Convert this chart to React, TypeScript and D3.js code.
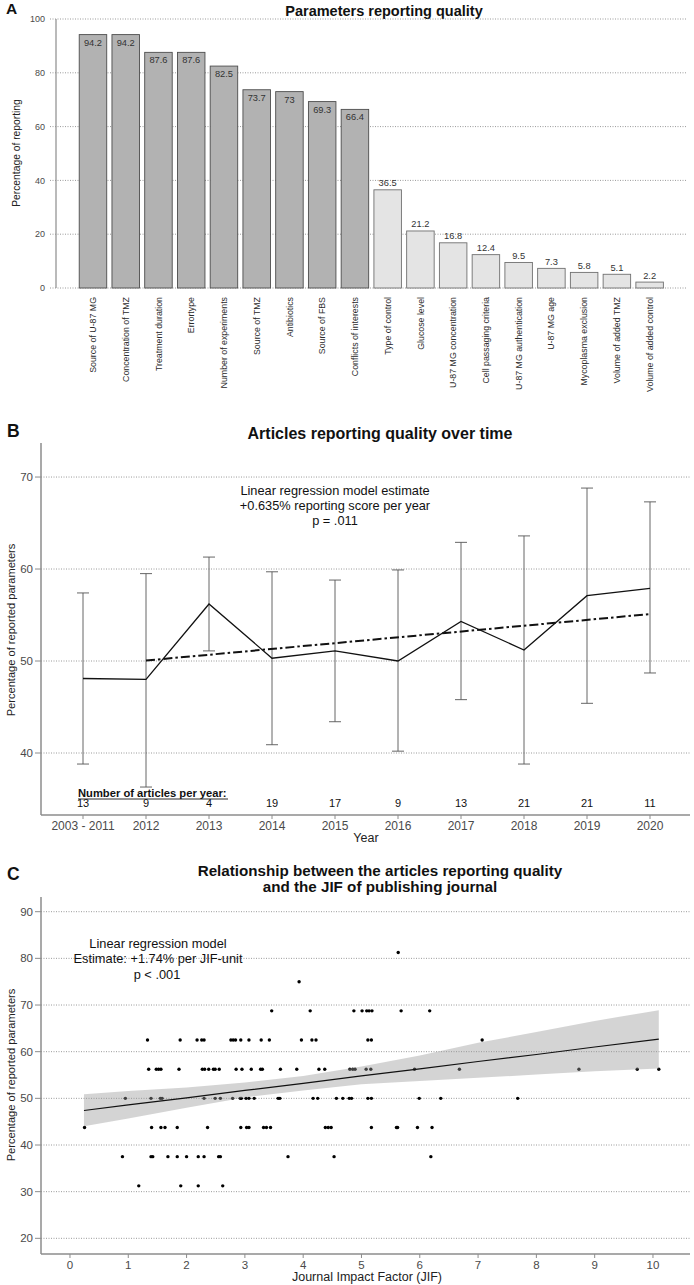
import React from "react";
import * as d3 from "d3";

// ---------- Panel A data ----------
const paramLabels = [
  "Source of U-87 MG", "Concentration of TMZ", "Treatment duration", "Errortype",
  "Number of experiments", "Source of TMZ", "Antibiotics", "Source of FBS",
  "Conflicts of interests", "Type of control", "Glucose level", "U-87 MG concentration",
  "Cell passaging criteria", "U-87 MG authentication", "U-87 MG age",
  "Mycoplasma exclusion", "Volume of added TMZ", "Volume of added control",
];
const paramValues = [94.2, 94.2, 87.6, 87.6, 82.5, 73.7, 73, 69.3, 66.4, 36.5, 21.2, 16.8, 12.4, 9.5, 7.3, 5.8, 5.1, 2.2];
const paramHighGroup = [true, true, true, true, true, true, true, true, true, false, false, false, false, false, false, false, false, false];
const aTicks = [0, 20, 40, 60, 80, 100];

// ---------- Panel B data ----------
const years = ["2003 - 2011", "2012", "2013", "2014", "2015", "2016", "2017", "2018", "2019", "2020"];
const meanScore = [48.1, 48.0, 56.2, 50.3, 51.1, 50.0, 54.3, 51.2, 57.1, 57.9];
const upperCI = [57.4, 59.5, 61.3, 59.7, 58.8, 59.9, 62.9, 63.6, 68.8, 67.3];
const lowerCI = [38.8, 36.3, 51.1, 40.9, 43.4, 40.2, 45.8, 38.8, 45.4, 48.7];
const articleCounts = [13, 9, 4, 19, 17, 9, 13, 21, 21, 11];
const trendYears = ["2012", "2020"];
const trendValues = [50.05, 55.1];
const bTicks = [40, 50, 60, 70];

// ---------- Panel C data ----------
const scoreLevels = [81.25, 75, 68.75, 62.5, 56.25, 50, 43.75, 37.5, 31.25];
const jif81 = [5.63];
const jif75 = [3.93];
const jif69 = [3.46, 4.12, 4.87, 5.01, 5.09, 5.13, 5.18, 5.68, 6.17];
const jif62 = [1.33, 1.89, 2.18, 2.26, 2.3, 2.76, 2.8, 2.84, 2.93, 3.07, 3.28, 3.42, 3.97, 4.15, 4.22, 5.11, 5.17, 7.07];
const jif56 = [1.35, 1.48, 1.52, 1.56, 1.87, 2.27, 2.31, 2.38, 2.46, 2.49, 2.56, 2.85, 2.95, 3.11, 3.27, 3.3, 3.61, 3.89, 4.27, 4.37, 4.8, 4.85, 4.89, 5.08, 5.16, 5.91, 6.68, 8.73, 9.73, 10.1];
const jif50 = [0.95, 1.39, 1.55, 1.58, 2.3, 2.49, 2.58, 2.79, 2.92, 2.94, 3.02, 3.07, 3.16, 3.57, 3.6, 4.17, 4.25, 4.57, 4.68, 4.79, 4.83, 5.11, 5.17, 5.99, 6.36, 7.68];
const jif44 = [0.25, 1.4, 1.56, 1.63, 1.84, 2.36, 2.93, 3.03, 3.07, 3.32, 3.37, 3.44, 4.38, 4.43, 4.48, 5.17, 5.6, 5.62, 5.96, 6.21];
const jif37 = [0.9, 1.39, 1.42, 1.68, 1.84, 2.0, 2.2, 2.3, 2.55, 2.58, 3.74, 4.53, 6.19];
const jif31 = [1.18, 1.9, 2.2, 2.62];
const jifRows = [jif81, jif75, jif69, jif62, jif56, jif50, jif44, jif37, jif31];

const fitJif = [0.24, 1, 2, 3, 4, 5, 6, 7, 8, 9, 10.1];
const fitMean = [47.4, 48.6, 50.1, 51.7, 53.2, 54.8, 56.3, 57.9, 59.4, 61.0, 62.7];
const fitUpper = [50.9, 51.6, 52.3, 53.4, 54.8, 56.8, 59.2, 61.9, 64.2, 66.6, 68.9];
const fitLower = [44.0, 45.7, 48.0, 50.2, 51.7, 53.0, 53.7, 54.4, 55.1, 55.8, 56.4];
const cXTicks = [0, 1, 2, 3, 4, 5, 6, 7, 8, 9, 10];
const cYTicks = [20, 30, 40, 50, 60, 70, 80, 90];

const FONT = "'Liberation Sans', Arial, Helvetica, sans-serif";
const GRID = "#9a9a9a";
const AXIS = "#8c8c8c";
const TICKTXT = "#4a4a4a";

function PanelA() {
  const y = d3.scaleLinear().domain([0, 100]).range([288, 19]);
  const x = d3.scaleBand<string>().domain(paramLabels).range([76.6, 666]).paddingInner(0.16).paddingOuter(0.08);
  return (
    <g>
      <text x={6} y={14} fontSize={15.5} fontWeight="bold" fill="#111">A</text>
      <text x={384} y={16} fontSize={14.5} fontWeight="bold" textAnchor="middle" fill="#111">Parameters reporting quality</text>
      {aTicks.map((t) => (
        <g key={t}>
          <line x1={50} x2={686} y1={y(t)} y2={y(t)} stroke={GRID} strokeDasharray="1,1.5" strokeWidth={1} />
          <text x={45} y={y(t)} dy="0.35em" fontSize={9} textAnchor="end" fill={TICKTXT}>{t}</text>
        </g>
      ))}
      <line x1={56} x2={56} y1={19} y2={288} stroke={AXIS} strokeWidth={1.2} />
      <text transform={`translate(16,153) rotate(-90)`} fontSize={10.3} textAnchor="middle" dy="0.35em" fill="#222">Percentage of reporting</text>
      {paramLabels.map((lab, i) => {
        const v = paramValues[i];
        const bx = x(lab) as number;
        const bw = x.bandwidth();
        const top = y(v);
        const high = paramHighGroup[i];
        return (
          <g key={lab}>
            <rect x={bx} y={top} width={bw} height={y(0) - top} fill={high ? "#b2b2b2" : "#e4e4e4"} stroke={high ? "#4d4d4d" : "#707070"} strokeWidth={0.9} />
            <text x={bx + bw / 2} y={high ? top + 11 : top - 3.5} fontSize={9.3} textAnchor="middle" fill="#333">{v}</text>
            <text transform={`translate(${bx + bw / 2},297) rotate(-90)`} fontSize={8.8} textAnchor="end" dy="0.35em" fill="#2a2a2a">{lab}</text>
          </g>
        );
      })}
    </g>
  );
}

function PanelB() {
  const y = d3.scaleLinear().domain([33.26, 73.7]).range([815, 443]);
  const x = d3.scalePoint<string>().domain(years).range([83, 650]);
  const line = d3.line<number>().x((_, i) => x(years[i]) as number).y((d) => y(d));
  const trend = d3.line<number>().x((_, i) => x(trendYears[i]) as number).y((d) => y(d));
  const cap = 6;
  return (
    <g>
      <text x={7} y={437} fontSize={17.5} fontWeight="bold" fill="#111">B</text>
      <text x={380} y={439} fontSize={16} fontWeight="bold" textAnchor="middle" fill="#111">Articles reporting quality over time</text>
      {bTicks.map((t) => (
        <g key={t}>
          <line x1={41} x2={690} y1={y(t)} y2={y(t)} stroke={GRID} strokeDasharray="1,1.5" />
          <line x1={35} x2={41} y1={y(t)} y2={y(t)} stroke={AXIS} />
          <text x={33} y={y(t)} dy="0.35em" fontSize={11.5} textAnchor="end" fill={TICKTXT}>{t}</text>
        </g>
      ))}
      <line x1={41} x2={41} y1={443} y2={815} stroke={AXIS} strokeWidth={1.5} />
      <line x1={41} x2={690} y1={815} y2={815} stroke={AXIS} strokeWidth={1.5} />
      {years.map((yr, i) => {
        const cx = x(yr) as number;
        return (
          <g key={yr}>
            <line x1={cx} x2={cx} y1={y(upperCI[i])} y2={y(lowerCI[i])} stroke="#555" strokeWidth={0.9} />
            <line x1={cx - cap} x2={cx + cap} y1={y(upperCI[i])} y2={y(upperCI[i])} stroke="#555" strokeWidth={0.9} />
            <line x1={cx - cap} x2={cx + cap} y1={y(lowerCI[i])} y2={y(lowerCI[i])} stroke="#555" strokeWidth={0.9} />
            <line x1={cx} x2={cx} y1={815} y2={819} stroke={AXIS} />
            <text x={cx} y={826} dy="0.35em" fontSize={12} textAnchor="middle" fill={TICKTXT}>{yr}</text>
            <text x={cx} y={803} dy="0.35em" fontSize={11} textAnchor="middle" fill="#111">{articleCounts[i]}</text>
          </g>
        );
      })}
      <path d={line(meanScore) || ""} fill="none" stroke="#111" strokeWidth={1.3} />
      <path d={trend(trendValues) || ""} fill="none" stroke="#111" strokeWidth={2} strokeDasharray="9,3,2.5,3" />
      <text x={335} y={495} fontSize={12.8} textAnchor="middle" fill="#111">Linear regression model estimate</text>
      <text x={335} y={510} fontSize={12.8} textAnchor="middle" fill="#111">+0.635% reporting score per year</text>
      <text x={335} y={525} fontSize={12.8} textAnchor="middle" fill="#111">p = .011</text>
      <text x={78} y={797} fontSize={11.2} fontWeight="bold" fill="#111">Number of articles per year:</text>
      <line x1={78} x2={228} y1={799} y2={799} stroke="#111" strokeWidth={0.9} />
      <text transform={`translate(11,630) rotate(-90)`} fontSize={11.1} textAnchor="middle" dy="0.35em" fill="#222">Percentage of reported parameters</text>
      <text x={366} y={838} dy="0.35em" fontSize={12.5} textAnchor="middle" fill="#222">Year</text>
    </g>
  );
}

function PanelC() {
  const y = d3.scaleLinear().domain([16.64, 93.15]).range([1254, 897]);
  const x = d3.scaleLinear().domain([-0.497, 10.635]).range([41, 690]);
  const area = d3.area<number>().x((_, i) => x(fitJif[i])).y0((_, i) => y(fitLower[i])).y1((d) => y(d));
  const line = d3.line<number>().x((_, i) => x(fitJif[i])).y((d) => y(d));
  return (
    <g>
      <text x={7} y={880} fontSize={17.5} fontWeight="bold" fill="#111">C</text>
      <text x={380} y={876} fontSize={15.2} fontWeight="bold" textAnchor="middle" fill="#111">Relationship between the articles reporting quality</text>
      <text x={380} y={892} fontSize={15.2} fontWeight="bold" textAnchor="middle" fill="#111">and the JIF of publishing journal</text>
      {cYTicks.map((t) => (
        <g key={t}>
          <line x1={41} x2={690} y1={y(t)} y2={y(t)} stroke={GRID} strokeDasharray="1,1.5" />
          <line x1={35} x2={41} y1={y(t)} y2={y(t)} stroke={AXIS} />
          <text x={33} y={y(t)} dy="0.35em" fontSize={11.5} textAnchor="end" fill={TICKTXT}>{t}</text>
        </g>
      ))}
      {cXTicks.map((t) => (
        <g key={t}>
          <line x1={x(t)} x2={x(t)} y1={1254} y2={1258} stroke={AXIS} />
          <text x={x(t)} y={1265} dy="0.35em" fontSize={11.5} textAnchor="middle" fill={TICKTXT}>{t}</text>
        </g>
      ))}
      <line x1={41} x2={41} y1={897} y2={1254} stroke={AXIS} strokeWidth={1.5} />
      <line x1={41} x2={690} y1={1254} y2={1254} stroke={AXIS} strokeWidth={1.5} />
      {jifRows.map((row, r) =>
        row.map((j, k) => <circle key={`${r}-${k}`} cx={x(j)} cy={y(scoreLevels[r])} r={1.7} fill="#000" />)
      )}
      <path d={area(fitUpper) || ""} fill="#999" fillOpacity={0.42} stroke="none" />
      <path d={line(fitMean) || ""} fill="none" stroke="#111" strokeWidth={1.2} />
      <text x={158} y={948} fontSize={12.8} textAnchor="middle" fill="#111">Linear regression model</text>
      <text x={158} y={963} fontSize={12.8} textAnchor="middle" fill="#111">Estimate: +1.74% per JIF-unit</text>
      <text x={157} y={979} fontSize={12.8} textAnchor="middle" fill="#111">p &lt; .001</text>
      <text transform={`translate(11,1075) rotate(-90)`} fontSize={11.1} textAnchor="middle" dy="0.35em" fill="#222">Percentage of reported parameters</text>
      <text x={367} y={1277} dy="0.35em" fontSize={12.5} textAnchor="middle" fill="#222">Journal Impact Factor (JIF)</text>
    </g>
  );
}

export default function App() {
  return (
    <svg width={694} height={1285} viewBox="0 0 694 1285" style={{ position: "absolute", left: 0, top: 0, background: "#fff" }} fontFamily={FONT}>
      <rect x={0} y={0} width={694} height={1285} fill="#fff" />
      <PanelA />
      <PanelB />
      <PanelC />
    </svg>
  );
}
